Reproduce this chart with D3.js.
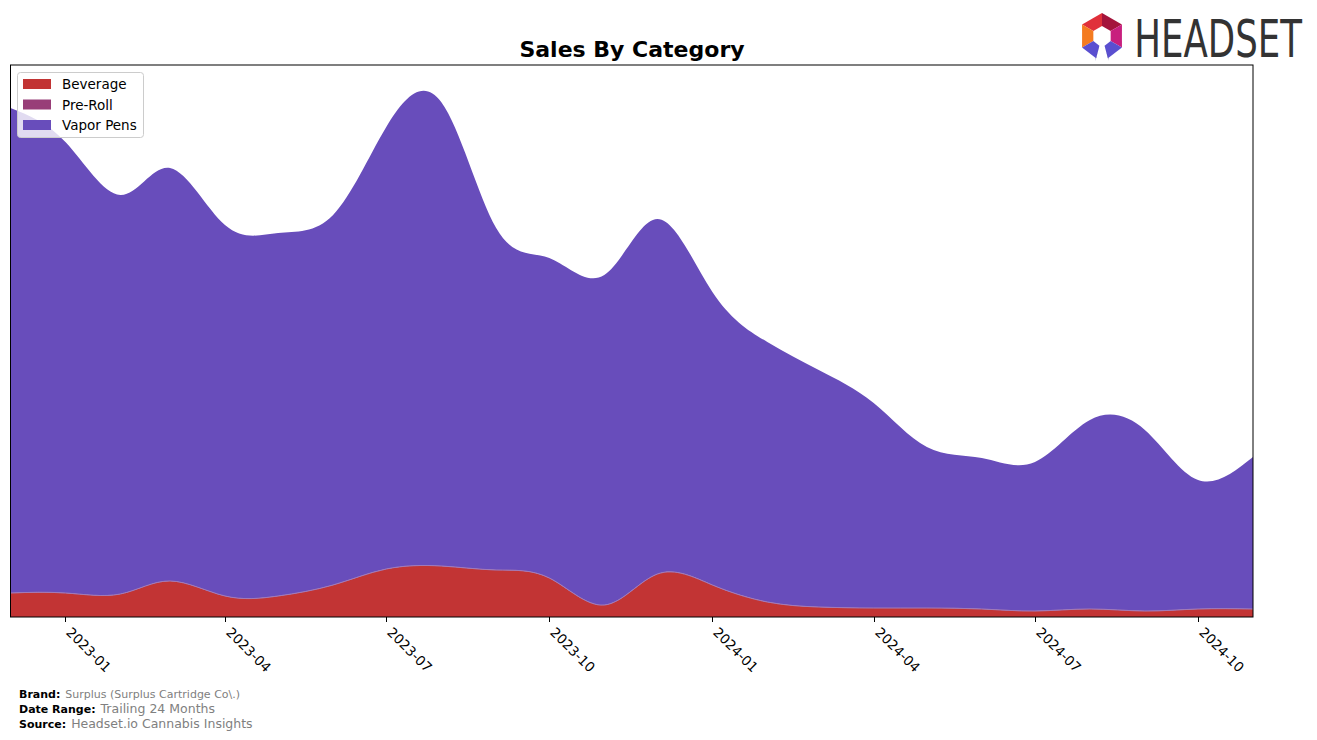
<!DOCTYPE html>
<html><head><meta charset="utf-8">
<script src="https://cdn.jsdelivr.net/npm/d3@7"></script>
<style>body{margin:0;background:#fff}svg{display:block;font-family:"DejaVu Sans",sans-serif}</style>
</head><body><svg id="c" width="1317" height="740"></svg>
<script>
const months = ["2022-12-01","2023-01-01","2023-02-01","2023-03-01","2023-04-01","2023-05-01","2023-06-01","2023-07-01","2023-08-01","2023-09-01","2023-10-01","2023-11-01","2023-12-01","2024-01-01","2024-02-01","2024-03-01","2024-04-01","2024-05-01","2024-06-01","2024-07-01","2024-08-01","2024-09-01","2024-10-01","2024-11-01"];
const beverage  = [24,24,23,36,21,21,32,48,51,47,39,12,43,32,15,10,9,9,8,6,8,6,8,8];
const preRoll   = [0,0,0,0,0,0,0,0,0,0,0,0,0,0,0,0,0,0,0,0,0,0,0,0];
const vaporPens = [485,451,399,413,371,363,370,442,464,342,320,330,355,293,260,237,205,161,151,149,189,181,129,152];
const categories = ["Beverage","Pre-Roll","Vapor Pens"];
const colors = ["#c23434","#983e78","#684dbb"];
const tickDates = ["2023-01-01","2023-04-01","2023-07-01","2023-10-01","2024-01-01","2024-04-01","2024-07-01","2024-10-01"];
const tickLabels = ["2023-01","2023-04","2023-07","2023-10","2024-01","2024-04","2024-07","2024-10"];
const yTop = 552;

const svg = d3.select("#c");
const L = 10.5, R = 1253, T = 65, B = 617;
const x = d3.scaleUtc().domain([new Date(months[0]), new Date(months[months.length-1])]).range([L, R]);
const y = d3.scaleLinear().domain([0, yTop]).range([B, T]);

const rows = months.map((m, i) => ({date: new Date(m), "Beverage": beverage[i], "Pre-Roll": preRoll[i], "Vapor Pens": vaporPens[i]}));
const series = d3.stack().keys(categories)(rows);

svg.append("defs").append("clipPath").attr("id","clip").append("rect")
  .attr("x", L).attr("y", T).attr("width", R - L).attr("height", B - T);

const area = d3.area().curve(d3.curveNatural)
  .x(d => x(d.data.date)).y0(d => y(d[0])).y1(d => y(d[1]));
const line = d3.line().curve(d3.curveNatural)
  .x(d => x(d.data.date)).y(d => y(d[1]));

const g = svg.append("g").attr("clip-path","url(#clip)");
g.selectAll("path.a").data(series).join("path").attr("class","a")
  .attr("d", area).attr("fill", (d, i) => colors[i]);
g.selectAll("path.l").data(series.slice(0,2)).join("path").attr("class","l")
  .attr("d", line).attr("fill","none").attr("stroke","#a27ab8").attr("stroke-width",0.8).attr("stroke-opacity",0.8);

// frame
svg.append("rect").attr("x", L).attr("y", T).attr("width", R - L).attr("height", B - T)
  .attr("fill","none").attr("stroke","#000").attr("stroke-width",1);

// x axis ticks
const ax = svg.append("g");
tickDates.forEach((td, i) => {
  const tx = Math.round(x(new Date(td))) + 0.5;
  ax.append("line").attr("x1", tx).attr("x2", tx).attr("y1", B).attr("y2", B + 5).attr("stroke","#000").attr("stroke-width",1);
  ax.append("text").attr("transform", `translate(${tx + 7},${B + 9}) rotate(45)`)
    .attr("dy","0.75em").attr("font-size","13.5px").attr("fill","#000").text(tickLabels[i]);
});

// title
svg.append("text").attr("x", 632).attr("y", 57).attr("text-anchor","middle")
  .attr("font-weight","bold").attr("font-size","22px").attr("fill","#000").text("Sales By Category");

// legend
const lg = svg.append("g");
lg.append("rect").attr("x",17.5).attr("y",72.5).attr("width",126).attr("height",65).attr("rx",3)
  .attr("fill","#fff").attr("fill-opacity",0.8).attr("stroke","#cccccc");
categories.forEach((c, i) => {
  const cy = 84 + i * 20.5;
  lg.append("rect").attr("x",23).attr("y",cy - 5).attr("width",28).attr("height",10).attr("fill",colors[i]);
  lg.append("text").attr("x",62).attr("y",cy + 5).attr("font-size","13.5px").attr("fill","#000").text(c);
});

// footer
const foot = [["Brand:","Surplus (Surplus Cartridge Co\\.)",698,"11px"],["Date Range:","Trailing 24 Months",713,"12.5px"],["Source:","Headset.io Cannabis Insights",728,"12.5px"]];
foot.forEach(f => {
  const t = svg.append("text").attr("x",19).attr("y",f[2]);
  t.append("tspan").attr("font-weight","bold").attr("font-size","11px").attr("fill","#000").text(f[0]);
  t.append("tspan").attr("dx","5").attr("font-size",f[3]).attr("fill","#808080").text(f[1]);
});

// logo
const lgo = svg.append("g");
const cx = 1102, cyy = 36;
const pt = (r, a) => [cx + r * Math.cos(a * Math.PI / 180), cyy + r * Math.sin(a * Math.PI / 180)];
const seg = (a0, a1, r0, r1, col) => {
  const p = [pt(r1,a0), pt(r1,a1), pt(r0,a1), pt(r0,a0)];
  lgo.append("polygon").attr("points", p.map(q => q.join(",")).join(" ")).attr("fill", col);
};
seg(-150,-90,10,23,"#e0303a");
seg(-90,-30,10,23,"#a4143c");
seg(-30,30,10,23,"#c81f7e");
seg(150,210,10,23,"#f47b20");
seg(30,75,10,23,"#5a4fd0");
seg(105,150,10,23,"#5a4fd0");
lgo.append("polygon").attr("points", [pt(23,75), pt(10,75), [cx+7, cyy+25]].map(q=>q.join(",")).join(" ")).attr("fill","#2d2a8a");
lgo.append("polygon").attr("points", [pt(23,105), pt(10,105), [cx-7, cyy+25]].map(q=>q.join(",")).join(" ")).attr("fill","#2d2a8a");
lgo.append("text").attr("transform","translate(1302,57) scale(0.92,1.18)").attr("text-anchor","end")
  .attr("font-family","'Liberation Sans Narrow','DejaVu Sans Condensed',sans-serif")
  .attr("font-size","43px").attr("fill","#333").text("HEADSET");
</script></body></html>
